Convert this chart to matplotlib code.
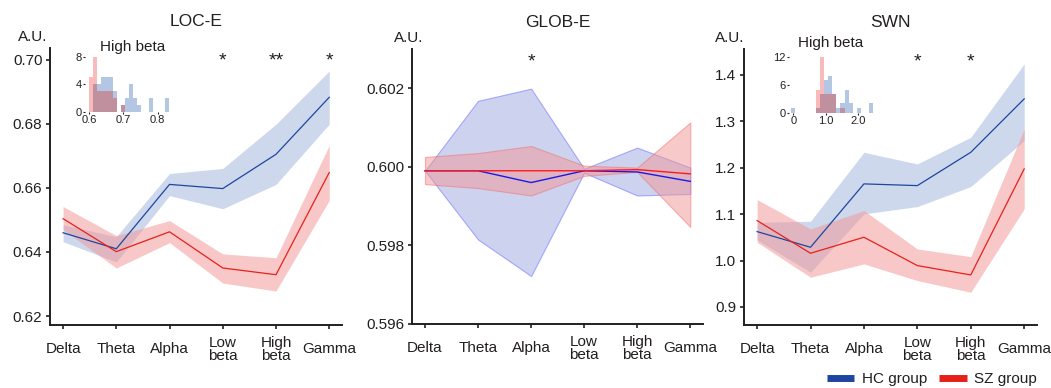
import matplotlib
matplotlib.use('Agg')
import matplotlib.pyplot as plt
from matplotlib.lines import Line2D
import numpy as np

plt.rcParams['font.family'] = ['Liberation Sans', 'DejaVu Sans']
plt.rcParams['text.color'] = '#231f20'
plt.rcParams['xtick.color'] = '#231f20'
plt.rcParams['ytick.color'] = '#231f20'

# frequency bands
bands = ['Delta', 'Theta', 'Alpha', 'Low\nbeta', 'High\nbeta', 'Gamma']

# LOC-E
loc_hc = [0.6460, 0.6410, 0.6611, 0.6598, 0.6705, 0.6883]
loc_hc_lo = [0.6432, 0.6369, 0.6576, 0.6535, 0.6611, 0.6799]
loc_hc_hi = [0.6485, 0.6448, 0.6645, 0.6661, 0.6799, 0.6965]
loc_sz = [0.6504, 0.6401, 0.6463, 0.6350, 0.6329, 0.6648]
loc_sz_lo = [0.6470, 0.6350, 0.6429, 0.6303, 0.6278, 0.6561]
loc_sz_hi = [0.6542, 0.6451, 0.6498, 0.6394, 0.6382, 0.6733]
loc_stars = {3: '*', 4: '**', 5: '*'}

# GLOB-E
glob_hc = [0.59990, 0.59990, 0.59960, 0.59990, 0.59987, 0.59963]
glob_hc_lo = [0.59990, 0.59815, 0.59722, 0.59985, 0.59927, 0.59931]
glob_hc_hi = [0.59990, 0.60168, 0.60199, 0.59995, 0.60049, 0.59998]
glob_sz = [0.59990, 0.59990, 0.59990, 0.59990, 0.59993, 0.59982]
glob_sz_lo = [0.59956, 0.59946, 0.59927, 0.59977, 0.59987, 0.59847]
glob_sz_hi = [0.60025, 0.60035, 0.60053, 0.60003, 0.59998, 0.60113]
glob_stars = {2: '*'}

# SWN
swn_hc = [1.0625, 1.0287, 1.1653, 1.1616, 1.2334, 1.3485]
swn_hc_lo = [1.0445, 0.9749, 1.1006, 1.1164, 1.1595, 1.2586]
swn_hc_hi = [1.0826, 1.0848, 1.2334, 1.2083, 1.2658, 1.4239]
swn_sz = [1.0862, 1.0158, 1.0503, 0.9892, 0.9691, 1.1976]
swn_sz_lo = [1.0395, 0.9641, 0.9928, 0.9569, 0.9318, 1.1114]
swn_sz_hi = [1.1315, 1.0683, 1.1078, 1.0251, 1.0086, 1.2838]
swn_stars = {3: '*', 4: '*'}

# high beta histograms (bin start, bin width, counts)
loc_hist_start, loc_hist_width = 0.600, 0.0117
loc_hist_hc = [0, 4, 4, 5, 5, 5, 3, 0, 1, 2, 4, 2, 1, 0, 0, 2, 0, 0, 0, 2]
loc_hist_sz = [5, 8, 3, 3, 3, 3, 2, 0, 1, 0, 0, 0, 0, 0, 0, 0, 0, 0, 0, 0]
swn_hist_start, swn_hist_width = -0.08, 0.128
swn_hist_hc = [1, 0, 0, 0, 0, 0, 1, 4, 7, 8, 4, 1, 2, 5, 2, 0, 1, 0, 0, 2]
swn_hist_sz = [0, 0, 0, 0, 0, 0, 5, 12, 4, 4, 4, 0, 1, 0, 0, 0, 0, 0, 0, 0]

HC_LINE = '#1e46a0'
SZ_LINE = '#e8201a'

fig = plt.figure(figsize=(10.51, 3.88), dpi=100)


def main_panel(rect, title, hc, hc_lo, hc_hi, sz, sz_lo, sz_hi, ylim, yticks, fmt,
               stars, au_x, glob=False):
    ax = fig.add_axes(rect)
    x = np.arange(len(bands))
    if glob:
        ax.fill_between(x, hc_lo, hc_hi, facecolor='#9ca6e0', edgecolor='#6666ff',
                        alpha=0.5, linewidth=0.8)
        ax.fill_between(x, sz_lo, sz_hi, facecolor='#f29595', edgecolor='#f07070',
                        alpha=0.5, linewidth=0.8)
        ax.plot(x, hc, color='#1a1ae6', lw=1.0)
        ax.plot(x, sz, color='#ff1a1a', lw=1.0)
    else:
        ax.fill_between(x, hc_lo, hc_hi, color='#9fb3da', alpha=0.5, linewidth=0)
        ax.fill_between(x, sz_lo, sz_hi, color='#f39393', alpha=0.5, linewidth=0)
        ax.plot(x, hc, color=HC_LINE, lw=0.9)
        ax.plot(x, sz, color=SZ_LINE, lw=0.9)
    ax.set_xlim(-0.245, 5.24)
    ax.set_ylim(*ylim)
    ax.set_yticks(yticks)
    ax.set_yticklabels([fmt.format(v) for v in yticks])
    ax.set_xticks(x)
    ax.set_xticklabels(bands, linespacing=0.95)
    for lab in ax.get_xticklabels():
        lab.set_va('center')
    ax.tick_params(axis='x', length=3, width=1.2, pad=14.5, labelsize=11)
    ax.tick_params(axis='y', length=3, width=1.2, pad=2.5, labelsize=11)
    for s in ['top', 'right']:
        ax.spines[s].set_visible(False)
    for s in ['left', 'bottom']:
        ax.spines[s].set_linewidth(1.4)
        ax.spines[s].set_color('#231f20')
    ax.set_title(title, fontsize=12.5, pad=15.5)
    ax.text(au_x, 1.04, 'A.U.', transform=ax.transAxes, ha='center', va='center',
            fontsize=11)
    for i, s in stars.items():
        ax.text(i, 0.952, s, transform=ax.get_xaxis_transform(), ha='center',
                va='center', fontsize=14)
    return ax


def inset(rect, start, width, hc_counts, sz_counts, xlim, ylim, xticks, xlabels,
          yticks, title_x, title_y):
    ax = fig.add_axes(rect)
    lefts = start + width * np.arange(len(hc_counts))
    hc_counts = np.array(hc_counts)
    sz_counts = np.array(sz_counts)
    ax.bar(lefts, hc_counts, width=width, align='edge', color='#b3c6e4', linewidth=0)
    ax.bar(lefts, sz_counts, width=width, align='edge', color='#f8baba', linewidth=0)
    ax.bar(lefts, np.minimum(hc_counts, sz_counts), width=width, align='edge',
           color='#c0909f', linewidth=0)
    ax.set_xlim(*xlim)
    ax.set_ylim(*ylim)
    ax.set_xticks(xticks)
    ax.set_xticklabels(xlabels)
    ax.set_yticks(yticks)
    ax.tick_params(length=1.2, width=0.8, pad=1, labelsize=8)
    for s in ax.spines.values():
        s.set_visible(False)
    ax.patch.set_alpha(0)
    ax.text(title_x, title_y, 'High beta', transform=ax.transAxes, ha='center',
            va='center', fontsize=11)
    return ax


main_panel([0.0476, 0.1624, 0.2778, 0.7139], 'LOC-E', loc_hc, loc_hc_lo, loc_hc_hi,
           loc_sz, loc_sz_lo, loc_sz_hi, (0.6172, 0.7037),
           [0.62, 0.64, 0.66, 0.68, 0.70], '{:.2f}', loc_stars, -0.058)
main_panel([0.392, 0.165, 0.2769, 0.7088], 'GLOB-E', glob_hc, glob_hc_lo, glob_hc_hi,
           glob_sz, glob_sz_lo, glob_sz_hi, (0.596, 0.6030),
           [0.596, 0.598, 0.600, 0.602], '{:.3f}', glob_stars, -0.012, glob=True)
main_panel([0.7079, 0.1624, 0.2788, 0.7113], 'SWN', swn_hc, swn_hc_lo, swn_hc_hi,
           swn_sz, swn_sz_lo, swn_sz_hi, (0.8612, 1.456),
           [0.9, 1.0, 1.1, 1.2, 1.3, 1.4], '{:.1f}', swn_stars, -0.05)

inset([0.0809, 0.7113, 0.0828, 0.1513], loc_hist_start, loc_hist_width,
      loc_hist_hc, loc_hist_sz, (0.588, 0.842), (0, 8.5),
      [0.6, 0.7, 0.8], ['0.6', '0.7', '0.8'], [0, 4, 8], 0.55, 1.11)
inset([0.7507, 0.7095, 0.0799, 0.149], swn_hist_start, swn_hist_width,
      swn_hist_hc, swn_hist_sz, (-0.13, 2.46), (0, 12.5),
      [0, 1.0, 2.0], ['0', '1.0', '2.0'], [0, 6, 12], 0.49, 1.2)

handles = [Line2D([0], [0], color=HC_LINE, lw=5, solid_capstyle='butt'),
           Line2D([0], [0], color=SZ_LINE, lw=5, solid_capstyle='butt')]
fig.legend(handles, ['HC group', 'SZ group'], ncol=2, loc='lower right',
           bbox_to_anchor=(1.0, -0.03), frameon=False, fontsize=11,
           handlelength=1.8, handletextpad=0.5, columnspacing=0.8)

fig.savefig('out.png', dpi=100)
